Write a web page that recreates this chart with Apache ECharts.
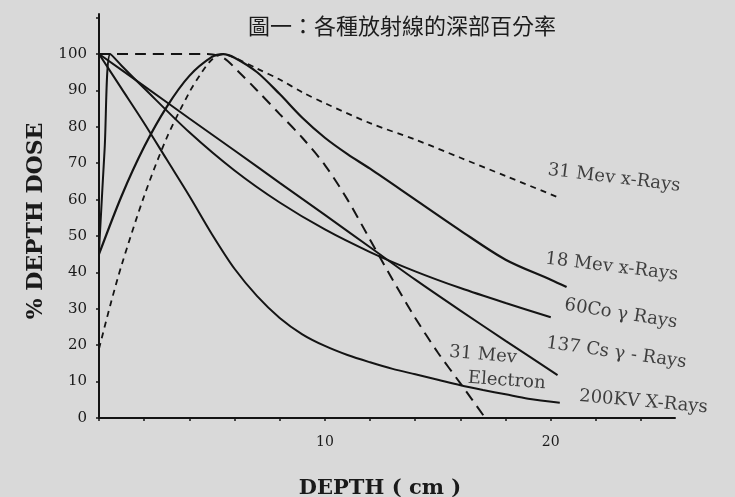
<!DOCTYPE html>
<html>
<head>
<meta charset="utf-8">
<script src="https://cdn.jsdelivr.net/npm/echarts@6/dist/echarts.min.js"></script>
<style>html,body{margin:0;padding:0;background:#d9d9d9;}#c{width:735px;height:497px;}</style>
</head>
<body>
<div id="c"></div>
<script>
// ---- data (depth in cm, % depth dose) ----
const kv200X = [0,1,2,3,4,5,6,7,8,9,10,11,12,13,14,15,16,17,18,19,20.4];
const kv200Y = [100,90.5,81,71,61,50.5,41,33.5,27.5,23,19.8,17.3,15.3,13.5,12,10.5,9,7.7,6.5,5.3,4.2];

const csX = [0,2,4,6,8,10,12,14,16,18,20.3];
const csY = [100,91.2,82.3,73.5,64.6,55.8,46.9,38,29.5,21.2,11.8];

const coX = [0,0.25,0.5,1,2,4,6,8,10,12,14,16,18,20];
const coY = [46,74,100,96.8,90.6,78.5,68,59.2,51.8,45.6,40.3,35.7,31.6,27.7];

const mev18X = [0,1,2,3,4,5,5.5,6,7,8,9,10,11,12,14,16,18,20,20.7];
const mev18Y = [45,61,74.5,85.5,94,99.2,100,99,95,89,82.5,77,72.5,68.5,60,51.5,43.5,38,36];

const mev31X = [0,0.5,1,2,3,4,4.5,5,5.5,6,7,8,9,10,12,14,16,18,20.3];
const mev31Y = [19,31,42,61,77,89.5,94.5,98.5,100,99,96,93,89.5,86.5,81,76.5,71.5,66.5,60.7];

const elecX = [0,2,4.8,5.5,6.2,7,8,9,10,11,12,13,14,15,16,17.1];
const elecY = [100,100,100,99,95,90,83.5,77,69.5,60,49,38,27.5,18,9.5,0];

const labelText = ['31 Mev x-Rays','18 Mev x-Rays','60Co γ Rays','137 Cs γ - Rays','31 Mev','Electron','200KV X-Rays'];
const labelX = [22.8,22.7,23.1,22.9,17.0,18.05,24.1];
const labelY = [65.9,41.5,28.6,17.9,17.3,10.2,4.4];
const labelRot = [-7,-7,-9,-8,-5,-4,-5];

const xTickLabels = {10:'10',20:'20'};
const title = '圖一：各種放射線的深部百分率';

function zip(xs, ys){ return xs.map((x,i)=>[x, ys[i]]); }

const chart = echarts.init(document.getElementById('c'));
const serif = 'DejaVu Serif';
const ink = '#141414';

function lineSeries(name, xs, ys, width, dash){
  return {
    name, type:'line', data: zip(xs, ys), showSymbol:false, symbol:'none',
    smooth:0.3, clip:false,
    lineStyle:{color:ink, width:width, type: dash || 'solid'},
    z:3
  };
}

chart.setOption({
  backgroundColor:'#d9d9d9',
  animation:false,
  title:{text:title, left:397, top:10, textAlign:'center',
    textStyle:{fontFamily:'Noto Sans CJK TC', fontSize:22, fontWeight:'normal', color:'#1c1c1c'}},
  grid:{left:99, right:60, top:14, bottom:79, containLabel:false, outerBoundsMode:'none'},
  xAxis:{type:'value', min:0, max:25.5, interval:2,
    name:'DEPTH ( cm )', nameLocation:'middle', nameGap:60,
    nameTextStyle:{fontFamily:serif, fontSize:21, fontWeight:'bold', color:'#1a1a1a', padding:[0,14,0,0]},
    axisLine:{show:true, onZero:false, lineStyle:{color:ink, width:2}},
    axisTick:{show:true, length:3, lineStyle:{color:ink, width:1.5}},
    splitLine:{show:false},
    axisLabel:{formatter:v=>xTickLabels[v]||'', margin:17, fontFamily:serif, fontSize:14, color:'#1a1a1a', showMaxLabel:false}
  },
  yAxis:{type:'value', min:0, max:111, interval:10,
    name:'% DEPTH DOSE', nameLocation:'middle', nameGap:52, nameRotate:90,
    nameTextStyle:{fontFamily:serif, fontSize:22, fontWeight:'bold', color:'#1a1a1a', padding:[0,10,0,0]},
    axisLine:{show:true, lineStyle:{color:ink, width:2}},
    axisTick:{show:true, length:3, lineStyle:{color:ink, width:1.5}},
    splitLine:{show:false},
    axisLabel:{formatter:v=>(v<=100?String(v):''), margin:12, fontFamily:serif, fontSize:15, color:'#1a1a1a', padding:[8,0,0,0], showMaxLabel:false}
  },
  series:[
    lineSeries('200KV X-Rays', kv200X, kv200Y, 2),
    lineSeries('137 Cs', csX, csY, 2),
    lineSeries('60Co', coX, coY, 2),
    lineSeries('18 Mev x-Rays', mev18X, mev18Y, 2.2),
    lineSeries('31 Mev x-Rays', mev31X, mev31Y, 1.8, [6,5]),
    lineSeries('31 Mev Electron', elecX, elecY, 2, [11,7]),
    {type:'scatter', symbolSize:0, silent:true, z:5,
      data: labelText.map((t,i)=>({value:[labelX[i], labelY[i]], name:t,
        label:{show:true, position:'inside', formatter:t, rotate:labelRot[i],
          fontFamily:serif, fontSize:18, color:'#151515'}}))
    }
  ]
});
</script>
</body>
</html>
